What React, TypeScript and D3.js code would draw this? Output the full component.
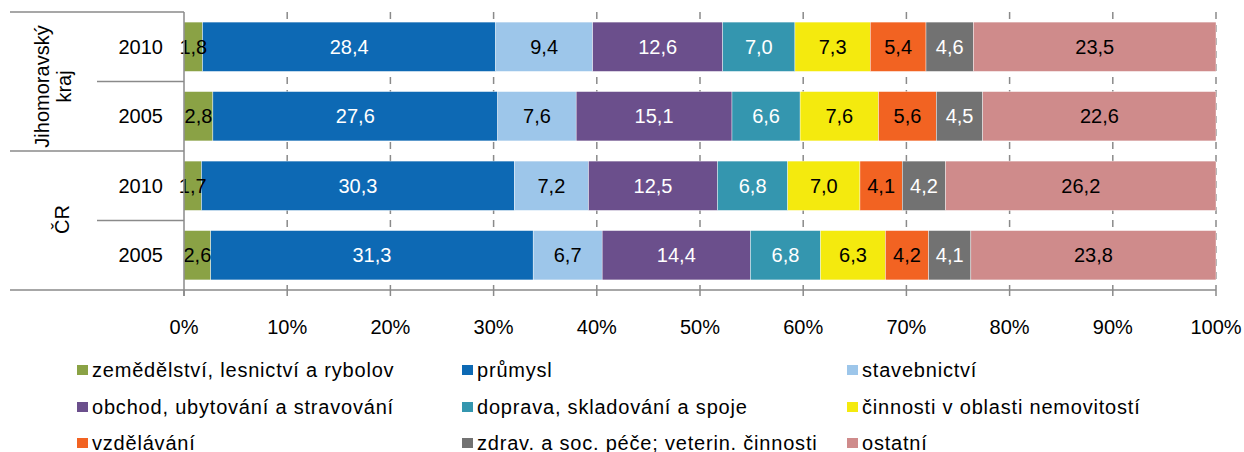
import { useEffect, useRef } from 'react'
import * as d3 from 'd3'

// odvětví (series), in stacking order
const sectors = [
	'zemědělství, lesnictví a rybolov',
	'průmysl',
	'stavebnictví',
	'obchod, ubytování a stravování',
	'doprava, skladování a spoje',
	'činnosti v oblasti nemovitostí',
	'vzdělávání',
	'zdrav. a soc. péče; veterin. činnosti',
	'ostatní',
]
const sectorColors = [
	'#8aa245',
	'#0d69b4',
	'#9dc6ea',
	'#6b4f8c',
	'#3496af',
	'#f4ea0e',
	'#f26322',
	'#727272',
	'#cf8b8b',
]
const whiteLabel = [false, true, false, true, true, false, false, true, false]

const rows = ['jmk2010', 'jmk2005', 'cr2010', 'cr2005']
const rowYears = ['2010', '2005', '2010', '2005']
const groups = [
	{ lines: ['Jihomoravský', 'kraj'], rows: ['jmk2010', 'jmk2005'] },
	{ lines: ['ČR'], rows: ['cr2010', 'cr2005'] },
]

const jmk2010 = [1.8, 28.4, 9.4, 12.6, 7.0, 7.3, 5.4, 4.6, 23.5]
const jmk2005 = [2.8, 27.6, 7.6, 15.1, 6.6, 7.6, 5.6, 4.5, 22.6]
const cr2010 = [1.7, 30.3, 7.2, 12.5, 6.8, 7.0, 4.1, 4.2, 26.2]
const cr2005 = [2.6, 31.3, 6.7, 14.4, 6.8, 6.3, 4.2, 4.1, 23.8]
const rowValues: Record<string, number[]> = { jmk2010, jmk2005, cr2010, cr2005 }

const xTicks = [0, 0.1, 0.2, 0.3, 0.4, 0.5, 0.6, 0.7, 0.8, 0.9, 1]

const W = 1244
const H = 452
const font = 'Arial, "Liberation Sans", sans-serif'

export default function App() {
	const ref = useRef<SVGSVGElement>(null)

	useEffect(() => {
		const svg = d3.select(ref.current)
		svg.selectAll('*').remove()

		const plot = { left: 184, right: 1216, top: 12, bottom: 290 }

		const x = d3.scaleLinear().domain([0, 1]).range([plot.left, plot.right])
		const y = d3
			.scaleBand()
			.domain(rows)
			.range([plot.top, plot.bottom])
			.paddingInner(0.29)
			.paddingOuter(0.145)

		const table = rows.map((r) => {
			const o: any = { row: r }
			sectors.forEach((s, i) => (o[s] = rowValues[r][i]))
			return o
		})
		const stacked = d3.stack<any>().keys(sectors).offset(d3.stackOffsetExpand)(table)

		// dashed gridlines
		svg
			.append('g')
			.selectAll('line')
			.data(xTicks.slice(1))
			.enter()
			.append('line')
			.attr('x1', (d) => x(d))
			.attr('x2', (d) => x(d))
			.attr('y1', plot.top)
			.attr('y2', plot.bottom)
			.attr('stroke', '#8a8a8a')
			.attr('stroke-width', 1.5)
			.attr('stroke-dasharray', '7,6')

		// bars
		const series = svg
			.append('g')
			.selectAll('g')
			.data(stacked)
			.enter()
			.append('g')
			.attr('fill', (_d, i) => sectorColors[i])

		series
			.selectAll('rect')
			.data((d) => d.map((p) => ({ p, row: p.data.row })))
			.enter()
			.append('rect')
			.attr('x', (d) => x(d.p[0]))
			.attr('width', (d) => x(d.p[1]) - x(d.p[0]))
			.attr('y', (d) => y(d.row) as number)
			.attr('height', y.bandwidth())
			.attr('stroke', '#ffffff')
			.attr('stroke-width', 0.4)

		// data labels
		stacked.forEach((s, i) => {
			svg
				.append('g')
				.selectAll('text')
				.data(s)
				.enter()
				.append('text')
				.attr('x', (d) => (x(d[0]) + x(d[1])) / 2)
				.attr('y', (d) => (y(d.data.row) as number) + y.bandwidth() / 2)
				.attr('dy', '0.35em')
				.attr('text-anchor', 'middle')
				.style('font', `20px ${font}`)
				.attr('fill', whiteLabel[i] ? '#ffffff' : '#000000')
				.text((d) => d3.format('.1f')(rowValues[d.data.row][i]).replace('.', ','))
		})

		// x axis
		const axisColor = '#8a8a8a'
		svg
			.append('line')
			.attr('x1', plot.left)
			.attr('x2', plot.right)
			.attr('y1', plot.bottom)
			.attr('y2', plot.bottom)
			.attr('stroke', axisColor)
			.attr('stroke-width', 1.5)
		svg
			.append('g')
			.selectAll('line')
			.data(xTicks)
			.enter()
			.append('line')
			.attr('x1', (d) => x(d))
			.attr('x2', (d) => x(d))
			.attr('y1', plot.bottom)
			.attr('y2', plot.bottom + 6)
			.attr('stroke', axisColor)
			.attr('stroke-width', 1.5)
		svg
			.append('g')
			.selectAll('text')
			.data(xTicks)
			.enter()
			.append('text')
			.attr('x', (d) => x(d))
			.attr('y', 327)
			.attr('dy', '0.35em')
			.attr('text-anchor', 'middle')
			.style('font', `20px ${font}`)
			.text((d) => d3.format('.0%')(d))

		// y axis with grouped categories
		const yAxis = svg.append('g').attr('stroke', axisColor).attr('stroke-width', 1.5)
		yAxis
			.append('line')
			.attr('x1', plot.left)
			.attr('x2', plot.left)
			.attr('y1', plot.top)
			.attr('y2', plot.bottom + 6)
		const step = y.step()
		const rowEdge = (r: string) => (y(r) as number) - (step * y.paddingInner()) / 2
		// group borders (long) and row borders inside groups (short)
		groups.forEach((g) => {
			yAxis
				.append('line')
				.attr('x1', 10)
				.attr('x2', plot.left)
				.attr('y1', rowEdge(g.rows[0]))
				.attr('y2', rowEdge(g.rows[0]))
			yAxis
				.append('line')
				.attr('x1', 97)
				.attr('x2', plot.left)
				.attr('y1', rowEdge(g.rows[1]))
				.attr('y2', rowEdge(g.rows[1]))
		})
		yAxis
			.append('line')
			.attr('x1', 10)
			.attr('x2', plot.left)
			.attr('y1', plot.bottom)
			.attr('y2', plot.bottom)

		svg
			.append('g')
			.selectAll('text')
			.data(rows)
			.enter()
			.append('text')
			.attr('x', 163)
			.attr('y', (d) => (y(d) as number) + y.bandwidth() / 2)
			.attr('dy', '0.35em')
			.attr('text-anchor', 'end')
			.style('font', `20px ${font}`)
			.text((_d, i) => rowYears[i])

		groups.forEach((g) => {
			const top = rowEdge(g.rows[0])
			const bottom = rowEdge(g.rows[1]) + step
			const multi = g.lines.length > 1
			const cy = (top + bottom) / 2 + (multi ? 5 : -1)
			const cx = multi ? 53 : 62
			const t = svg
				.append('text')
				.attr('transform', `translate(${cx},${cy}) rotate(-90)`)
				.attr('text-anchor', 'middle')
				.style('font', `20px ${font}`)
			const lh = 22
			g.lines.forEach((line, i) => {
				t.append('tspan')
					.attr('x', 0)
					.attr('y', (i - (g.lines.length - 1) / 2) * lh)
					.attr('dy', '0.35em')
					.text(line)
			})
		})

		// legend, 3 columns
		const legendX = [77, 462, 847]
		const legendY = [370, 407, 443]
		const legend = svg
			.append('g')
			.selectAll('g')
			.data(sectors)
			.enter()
			.append('g')
			.attr('transform', (_d, i) => `translate(${legendX[i % 3]},${legendY[Math.floor(i / 3)]})`)
		legend
			.append('rect')
			.attr('x', 0)
			.attr('y', -5)
			.attr('width', 11)
			.attr('height', 10)
			.attr('fill', (_d, i) => sectorColors[i])
		legend
			.append('text')
			.attr('x', 15)
			.attr('y', 0)
			.attr('dy', '0.35em')
			.style('font', `20px ${font}`)
			.style('letter-spacing', '0.8px')
			.text((d) => d)
	}, [])

	return (
		<svg
			ref={ref}
			width={W}
			height={H}
			style={{ position: 'absolute', left: 0, top: 0, background: '#ffffff' }}
		/>
	)
}
